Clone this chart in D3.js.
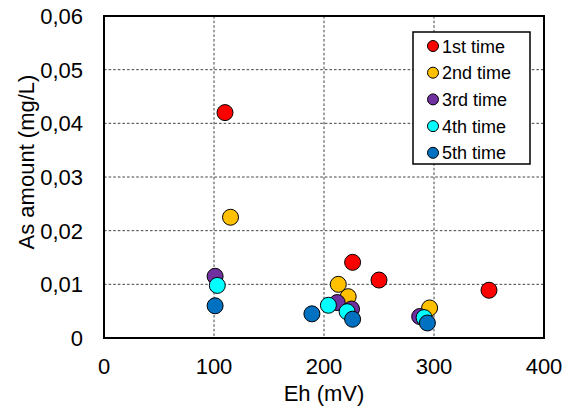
<!DOCTYPE html>
<html>
<head>
<meta charset="utf-8">
<script src="https://cdn.jsdelivr.net/npm/d3@7"></script>
<style>
  body { margin: 0; background: #fff; }
  svg { display: block; font-family: "Liberation Sans", Arial, sans-serif; }
</style>
</head>
<body>
<svg id="chart" width="569" height="409"></svg>
<script>
// data
const seriesNames = ['1st time', '2nd time', '3rd time', '4th time', '5th time'];
const seriesColors = ['#FF0000', '#FFC000', '#7030A0', '#00FFFF', '#0070C0'];

const eh1 = [110, 226, 250, 350];
const as1 = [0.0420, 0.0141, 0.0108, 0.0089];
const eh2 = [115, 213, 222, 296];
const as2 = [0.0225, 0.0100, 0.0077, 0.0056];
const eh3 = [101, 212, 225, 287];
const as3 = [0.0115, 0.0066, 0.0054, 0.0040];
const eh4 = [103, 204, 221, 291];
const as4 = [0.0098, 0.0061, 0.0049, 0.0038];
const eh5 = [101, 189, 226, 294];
const as5 = [0.0060, 0.0045, 0.0035, 0.0028];

const xTicks = [0, 100, 200, 300, 400];
const yTicks = [0, 0.01, 0.02, 0.03, 0.04, 0.05, 0.06];

const ehSeries = [eh1, eh2, eh3, eh4, eh5];
const asSeries = [as1, as2, as3, as4, as5];

const svg = d3.select('#chart');
const plot = { left: 104, right: 544, top: 16, bottom: 338 };

const x = d3.scaleLinear().domain([0, 400]).range([plot.left, plot.right]);
const y = d3.scaleLinear().domain([0, 0.06]).range([plot.bottom, plot.top]);

const fmtY = d => d === 0 ? '0' : d3.format('.2f')(d).replace('.', ',');

// gridlines
const grid = svg.append('g');
grid.selectAll('line.gx')
    .data(xTicks.slice(1, -1))
    .enter()
    .append('line')
        .attr('x1', d => x(d)).attr('x2', d => x(d))
        .attr('y1', plot.top).attr('y2', plot.bottom)
        .attr('stroke', '#444').attr('stroke-width', 1)
        .attr('stroke-dasharray', '2.6,2');
grid.selectAll('line.gy')
    .data(yTicks.slice(1, -1))
    .enter()
    .append('line')
        .attr('x1', plot.left).attr('x2', plot.right)
        .attr('y1', d => y(d)).attr('y2', d => y(d))
        .attr('stroke', '#444').attr('stroke-width', 1)
        .attr('stroke-dasharray', '2.6,2');

// points, series drawn in order so later ones sit on top
const points = [];
ehSeries.forEach((xs, i) => {
    xs.forEach((v, j) => points.push({ s: i, eh: v, as: asSeries[i][j] }));
});

svg.append('g').selectAll('circle')
    .data(points)
    .enter()
    .append('circle')
        .attr('cx', d => x(d.eh))
        .attr('cy', d => y(d.as))
        .attr('r', 8)
        .attr('fill', d => seriesColors[d.s])
        .attr('stroke', '#000')
        .attr('stroke-width', 1);

// frame
svg.append('rect')
    .attr('x', plot.left).attr('y', plot.top)
    .attr('width', plot.right - plot.left)
    .attr('height', plot.bottom - plot.top)
    .attr('fill', 'none')
    .attr('stroke', '#000')
    .attr('stroke-width', 2);

const axes = svg.append('g')
    .attr('font-size', '22px')
    .attr('fill', '#000');

axes.selectAll('text.xt')
    .data(xTicks)
    .enter()
    .append('text')
        .attr('x', d => x(d))
        .attr('y', 374)
        .attr('text-anchor', 'middle')
        .text(d => d);

axes.selectAll('text.yt')
    .data(yTicks)
    .enter()
    .append('text')
        .attr('x', 83)
        .attr('y', d => y(d) + 8)
        .attr('text-anchor', 'end')
        .text(fmtY);

axes.append('text')
    .attr('x', 324).attr('y', 401)
    .attr('text-anchor', 'middle')
    .text('Eh (mV)');

axes.append('text')
    .attr('transform', 'translate(34,162) rotate(-90)')
    .attr('text-anchor', 'middle')
    .text('As amount (mg/L)');

// legend
const legend = svg.append('g');
legend.append('rect')
    .attr('x', 413).attr('y', 32)
    .attr('width', 117).attr('height', 132)
    .attr('fill', '#fff')
    .attr('stroke', '#000')
    .attr('stroke-width', 1.5);

seriesNames.forEach((name, i) => {
    const cy = 46 + i * 26.7;
    legend.append('circle')
        .attr('cx', 433).attr('cy', cy).attr('r', 5.5)
        .attr('fill', seriesColors[i])
        .attr('stroke', '#000').attr('stroke-width', 1);
    legend.append('text')
        .attr('x', 442).attr('y', cy + 6.5)
        .attr('font-size', '18px')
        .text(name);
});
</script>
</body>
</html>
